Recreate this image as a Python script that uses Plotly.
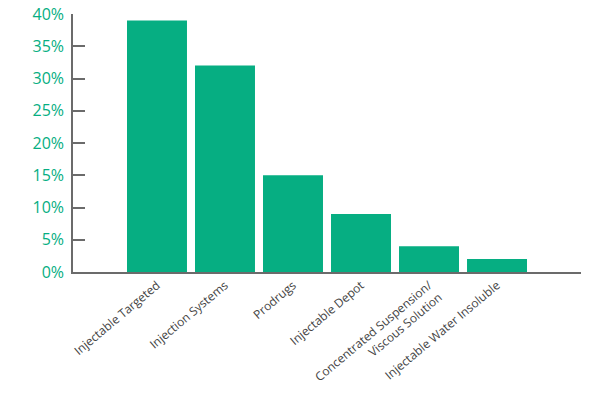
import plotly.graph_objects as go

categories = ["Injectable Targeted", "Injection Systems", "Prodrugs", "Injectable Depot",
              "Concentrated Suspension/<br>Viscous Solution", "Injectable Water Insoluble"]
values = [39, 32, 15, 9, 4, 2]
y_ticks = [0, 5, 10, 15, 20, 25, 30, 35, 40]
y_tick_labels = [f"{v}%" for v in y_ticks]

green = "#06AE82"
grey = "#6b6b6b"

fig = go.Figure(go.Bar(x=list(range(len(categories))), y=values, marker_color=green,
                       marker_line_width=0))
fig.update_layout(
    width=600, height=396,
    margin=dict(l=73, r=19, t=14, b=124, pad=0),
    plot_bgcolor="white", paper_bgcolor="white",
    bargap=0.118, showlegend=False,
    font=dict(family="Open Sans"),
)
fig.update_xaxes(
    range=[-1.235, 6.235], tickmode="array", tickvals=list(range(len(categories))),
    ticktext=categories, tickangle=-40, showline=True, linecolor=grey, linewidth=1.5,
    showgrid=False, zeroline=False, ticks="", tickfont=dict(size=12, color="#444444"),
    automargin=False,
)
fig.update_yaxes(
    range=[0, 40], tickmode="array", tickvals=y_ticks, ticktext=y_tick_labels,
    showline=True, linecolor=grey, linewidth=1.5, showgrid=False, zeroline=False,
    ticks="inside", ticklen=12, tickcolor=grey, tickwidth=1.5,
    tickfont=dict(size=16, color=green), ticklabelstandoff=4, automargin=False,
)
fig.write_html("out.html")
